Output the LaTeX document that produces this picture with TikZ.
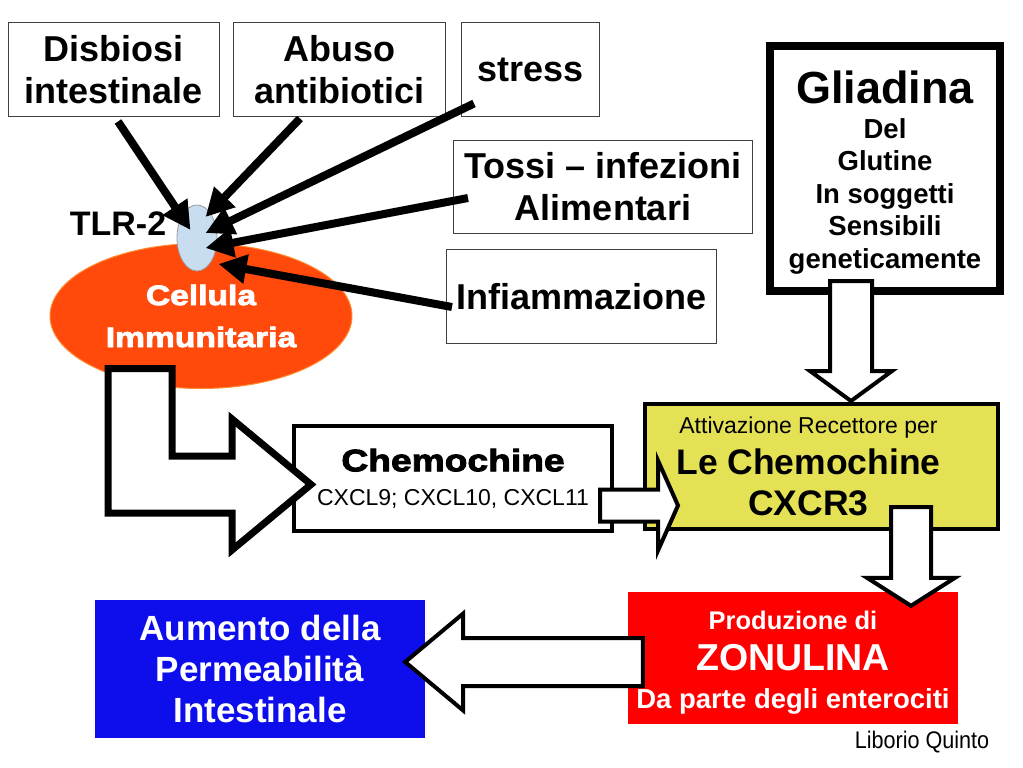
\documentclass[tikz,border=0pt]{standalone}
\usepackage{fontspec}
\setmainfont{Liberation Sans}
\newfontfamily\widefont[FakeStretch=1.2,FakeBold=3]{Liberation Sans Bold}
\newfontfamily\narrowfont[FakeStretch=0.9]{Liberation Sans}
\usetikzlibrary{arrows.meta,calc,shapes.geometric}
\definecolor{cellorange}{RGB}{255,74,12}
\definecolor{cellrim}{RGB}{255,140,50}
\definecolor{tlrblue}{RGB}{200,222,240}
\definecolor{yelbox}{RGB}{228,226,84}
\definecolor{redbox}{RGB}{255,0,0}
\definecolor{bluebox}{RGB}{14,14,236}
\tikzset{
  thinbox/.style={draw=black!75,line width=1pt,fill=white,inner sep=0pt,align=center,
    font=\fontsize{36}{42}\selectfont\bfseries},
  thinarrow/.style={line width=8pt,-{Triangle[length=28pt,width=28pt]}},
  blockarrow/.style={draw=black,fill=white,line width=4pt,line join=miter},
  thickblock/.style={draw=black,fill=white,line width=7pt,line join=miter},
  heavybox/.style={draw=black,line width=4pt,inner sep=0pt,align=center},
}
% #1 tail, #2 tip, #3 shaft half width, #4 head half width, #5 head length, #6 style
\newcommand\blockdown[6]{\draw[#6] let \p1=#1, \p2=#2 in
  (\x2-#3,\y1) -- (\x2+#3,\y1) -- (\x2+#3,\y2+#5) -- (\x2+#4,\y2+#5) -- (\x2,\y2)
  -- (\x2-#4,\y2+#5) -- (\x2-#3,\y2+#5) -- cycle;}
\newcommand\blockright[6]{\draw[#6] let \p1=#1, \p2=#2 in
  (\x1,\y2+#3) -- (\x2-#5,\y2+#3) -- (\x2-#5,\y2+#4) -- (\x2,\y2)
  -- (\x2-#5,\y2-#4) -- (\x2-#5,\y2-#3) -- (\x1,\y2-#3) -- cycle;}
\newcommand\blockleft[6]{\draw[#6] let \p1=#1, \p2=#2 in
  (\x1,\y2+#3) -- (\x2+#5,\y2+#3) -- (\x2+#5,\y2+#4) -- (\x2,\y2)
  -- (\x2+#5,\y2-#4) -- (\x2+#5,\y2-#3) -- (\x1,\y2-#3) -- cycle;}
\begin{document}
\begin{tikzpicture}[x=1pt,y=-1pt]
\useasboundingbox (0,0) rectangle (1023,768);
\fill[white] (0,0) rectangle (1023,768);

% top boxes
\node[thinbox,minimum width=211pt,minimum height=94pt] (dis) at (113.5,69.5) {Disbiosi\\intestinale};
\node[thinbox,minimum width=212pt,minimum height=94pt] (abu) at (339.5,69.5) {Abuso\\antibiotici};
\node[thinbox,minimum width=138pt,minimum height=94pt] (str) at (530.5,69.5) {stress};
\node[thinbox,minimum width=299pt,minimum height=93pt] (tos) at (603,187) {Tossi -- infezioni\\Alimentari};
\node[thinbox,minimum width=270pt,minimum height=94pt] (inf) at (581.5,296.5) {Infiammazione};

% Gliadina
\node[draw=black,line width=8pt,minimum width=230pt,minimum height=245pt,inner sep=0pt] (glia) at (885,168.5) {};
\node[align=center,inner sep=0pt,font=\fontsize{27.5}{32.5}\selectfont\bfseries] (gliatext) at ($(glia.center)+(0,4)$)
  {{\fontsize{45}{46}\selectfont Gliadina}\\[2pt]Del\\Glutine\\In soggetti\\Sensibili\\geneticamente};

% cell
\node[ellipse,fill=cellorange,draw=cellrim,line width=1pt,minimum width=302pt,minimum height=145pt,inner sep=0pt,
  align=center,text=white,font=\fontsize{28}{42}\selectfont\widefont] (cell) at (201,316) {Cellula\\Immunitaria};
\node[ellipse,fill=tlrblue,draw=black!40,line width=0.8pt,minimum width=40pt,minimum height=66pt,inner sep=0pt] (tlr) at (197,238) {};
\node[font=\fontsize{34}{40}\selectfont\bfseries,inner sep=0pt] (tlrlabel) at (118,224) {TLR-2};

% thin arrows
\draw[thinarrow] ($(dis.south)+(4.5,4.5)$) -- ($(tlr.center)+(-6.5,-8)$);
\draw[thinarrow] ($(abu.south)+(-39.5,1.5)$) -- ($(tlr.center)+(8.5,-21)$);
\draw[thinarrow] ($(str.south west)+(13,-13.5)$) -- ($(tlr.center)+(8.5,-5)$);
\draw[thinarrow] ($(tos.west)+(15,11)$) -- ($(tlr.center)+(8.5,10)$);
\draw[thinarrow] ($(inf.west)+(6,10.5)$) -- ($(tlr.center)+(21.5,26)$);

% chemochine
\node[heavybox,fill=white,minimum width=318pt,minimum height=105pt,font=\fontsize{23}{27}\selectfont] (chem) at (453,478.5)
  {{\fontsize{31}{34}\selectfont\widefont Chemochine}\\[7pt]CXCL9; CXCL10, CXCL11};

% yellow
\node[heavybox,fill=yelbox,minimum width=353pt,minimum height=125pt] (yel) at (821.5,466.5) {};
\node[align=center,inner sep=0pt,font=\fontsize{35.5}{41}\selectfont\bfseries] (yeltext) at ($(yel.center)+(-13,0)$)
  {{\fontsize{23}{25}\selectfont\mdseries Attivazione Recettore per}\\Le Chemochine\\CXCR3};

% red
\node[fill=redbox,minimum width=330pt,minimum height=132pt,inner sep=0pt] (red) at (793,658) {};
\node[align=center,inner sep=0pt,text=white,font=\fontsize{25.5}{38}\selectfont\bfseries] (redtext) at ($(red.center)+(0,5)$)
  {Produzione di\\[3pt]{\fontsize{37.5}{40}\selectfont ZONULINA}\\{\fontsize{27.5}{38}\selectfont Da parte degli enterociti}};

% blue
\node[fill=bluebox,minimum width=330pt,minimum height=138pt,inner sep=0pt,align=center,text=white,
  font=\fontsize{35}{41}\selectfont\bfseries] (blue) at (260,669)
  {Aumento della\\Permeabilità\\Intestinale};

\node[font=\fontsize{24}{28}\selectfont\narrowfont,inner sep=0pt] (author) at (922,742) {Liborio Quinto};

% block arrows
\draw[thickblock] let \p1=(cell.south), \p2=($(chem.west)+(19,6)$) in
  (\x1-93pt,\y1+20.5pt) -- (\x1-29pt,\y1+20.5pt) -- (\x1-29pt,\y2+28.5pt) -- (\x2-79pt,\y2+28.5pt)
  -- (\x2-79pt,\y2+65.5pt) -- (\x2,\y2) -- (\x2-79pt,\y2-65.5pt) -- (\x2-79pt,\y2-28.5pt)
  -- (\x1-93pt,\y2-28.5pt) -- cycle;
\blockright{($(chem.east)+(-14,0)$)}{($(yel.west)+(35,39)$)}{16pt}{45pt}{20pt}{blockarrow}
\blockdown{($(glia.south)+(-34,-14)$)}{($(yel.north)+(29.5,-1)$)}{21pt}{41pt}{30pt}{blockarrow}
\blockdown{($(yel.south)+(88,-24)$)}{($(red.north)+(118,14)$)}{20pt}{44pt}{28pt}{blockarrow}
\blockleft{($(red.west)+(15,0)$)}{($(blue.east)+(-20,-7)$)}{24pt}{48.5pt}{58pt}{blockarrow}
\end{tikzpicture}
\end{document}
